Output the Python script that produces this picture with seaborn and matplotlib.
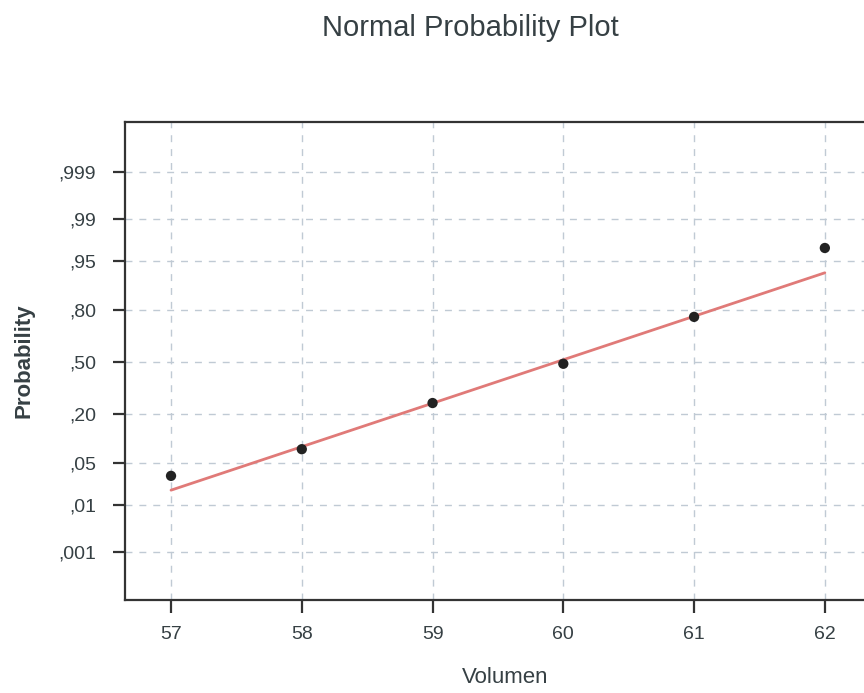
import matplotlib
matplotlib.use("Agg")
import matplotlib.pyplot as plt
import seaborn as sns
import numpy as np
import pandas as pd
from statistics import NormalDist

# ---- data ----
volumen = [57, 58, 59, 60, 61, 62]
probability = [0.032, 0.078, 0.252, 0.488, 0.768, 0.968]
fit_mean = 59.95
fit_sd = 1.415
fit_range = [57, 62]
y_tick_probs = [0.001, 0.01, 0.05, 0.20, 0.50, 0.80, 0.95, 0.99, 0.999]
y_tick_labels = [",001", ",01", ",05", ",20", ",50", ",80", ",95", ",99", ",999"]
x_ticks = [57, 58, 59, 60, 61, 62]

nd = NormalDist()
df = pd.DataFrame({"Volumen": volumen,
                   "z": [nd.inv_cdf(p) for p in probability]})
fit_df = pd.DataFrame({"Volumen": fit_range,
                       "z": [(x - fit_mean) / fit_sd for x in fit_range]})

sns.set_theme(style="white")
plt.rcParams["font.family"] = ["Liberation Sans", "DejaVu Sans"]

fig = plt.figure(figsize=(8.64, 6.93), dpi=100)
ax = fig.add_axes([125 / 864, 93 / 693, 760 / 864, 478 / 693])

sns.lineplot(data=fit_df, x="Volumen", y="z", ax=ax, color="#e07a78",
             linewidth=2.0, zorder=3)
sns.scatterplot(data=df, x="Volumen", y="z", ax=ax, color="#222222",
                s=55, edgecolor="none", zorder=4)

ax.set_xlim(56.648, 62.46)
ax.set_ylim(-3.87, 3.90)
ax.set_xticks(x_ticks)
ax.set_xticklabels([str(v) for v in x_ticks])
ax.set_yticks([nd.inv_cdf(p) for p in y_tick_probs])
ax.set_yticklabels(y_tick_labels)

ax.grid(True, linestyle=(0, (5, 5)), color="#c0cad4", linewidth=1.0)
ax.set_axisbelow(True)

for side in ["left", "bottom", "top", "right"]:
    ax.spines[side].set_color("#333333")
    ax.spines[side].set_linewidth(1.6)

ax.tick_params(axis="both", direction="out", length=9, width=1.6,
               color="#333333", labelsize=14, labelcolor="#364044",
               left=True, bottom=True)
ax.tick_params(axis="y", pad=12)
ax.tick_params(axis="x", pad=10)

ax.set_xlabel("Volumen", fontsize=16, color="#364044", labelpad=17)
ax.set_ylabel("Probability", fontsize=16, fontweight="bold",
              color="#364044", labelpad=17)

fig.text(470 / 864, 1 - 28 / 693, "Normal Probability Plot", ha="center",
         va="center", fontsize=21, color="#364044")

fig.savefig("out.png", dpi=100)
